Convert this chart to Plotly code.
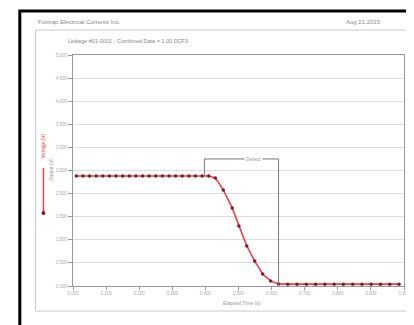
import plotly.graph_objects as go

# ---- data ----
x_vals = [0.1, 0.3, 0.5, 0.7, 0.9, 1.1, 1.3, 1.5, 1.7, 1.9, 2.1, 2.3, 2.5, 2.7, 2.9,
          3.1, 3.3, 3.5, 3.7, 3.9, 4.1,
          4.30, 4.54, 4.81, 5.01, 5.25, 5.49, 5.73, 5.97, 6.21,
          6.49, 6.77, 7.05, 7.33, 7.61, 7.89, 8.17, 8.45, 8.73, 9.01, 9.29, 9.57, 9.85]
y_vals = [4.76, 4.76, 4.76, 4.76, 4.76, 4.76, 4.76, 4.76, 4.76, 4.76, 4.76,
          4.76, 4.76, 4.76, 4.76, 4.76, 4.76, 4.76, 4.76, 4.76, 4.76,
          4.68, 4.16, 3.38, 2.60, 1.73, 1.08, 0.52, 0.22, 0.09,
          0.08, 0.08, 0.08, 0.08, 0.08, 0.08, 0.08, 0.08, 0.08, 0.08, 0.08, 0.08, 0.08]
y_ticks = [0, 1, 2, 3, 4, 5, 6, 7, 8, 9, 10]
y_tick_text = ["0.000", "0.500", "1.000", "1.500", "2.000", "2.500", "3.000", "3.500", "4.000", "4.500", "5.000"]
x_ticks = [0, 1, 2, 3, 4, 5, 6, 7, 8, 9, 10]
x_tick_text = ["0.000", "0.100", "0.200", "0.300", "0.400", "0.500", "0.600", "0.700", "0.800", "0.900", "1.000"]
box_x = [3.97, 6.21]
box_top = 5.5
box_left_bottom = 4.76

W, H = 414, 325
L, R, T, B = 65, 401, 47, 278

def px(x):
    return (x - L) / (R - L)

def py(y):
    return (B - y) / (B - T)

fig = go.Figure()
fig.add_trace(go.Scatter(
    x=x_vals, y=y_vals, mode="lines+markers",
    line=dict(color="#e4434d", width=1.6),
    marker=dict(color="#7d1d2a", size=3.5),
    showlegend=False,
))

shapes = [
    # outer black frame
    dict(type="rect", xref="paper", yref="paper", x0=px(11), x1=px(417), y0=py(3), y1=py(322),
         line=dict(color="black", width=3), layer="above"),
    # inner panel
    dict(type="rect", xref="paper", yref="paper", x0=px(27), x1=px(405), y0=py(22), y1=py(303),
         line=dict(color="#c8c8c8", width=1), layer="below"),
    # red legend line
    dict(type="line", xref="paper", yref="paper", x0=px(35), x1=px(35), y0=py(160), y1=py(206),
         line=dict(color="#e4434d", width=1.5)),
    dict(type="circle", xref="paper", yref="paper",
         x0=px(33), x1=px(37), y0=py(203), y1=py(207),
         fillcolor="#7d1d2a", line=dict(color="#7d1d2a", width=0)),
    # annotation box (bracket)
    dict(type="line", xref="x", yref="y", x0=box_x[0], x1=box_x[0], y0=box_left_bottom, y1=box_top,
         line=dict(color="#777777", width=1)),
    dict(type="line", xref="x", yref="y", x0=box_x[0], x1=box_x[1], y0=box_top, y1=box_top,
         line=dict(color="#777777", width=1)),
    dict(type="line", xref="x", yref="y", x0=box_x[1], x1=box_x[1], y0=0, y1=box_top,
         line=dict(color="#777777", width=1)),
]

annots = [
    dict(text="Foxtrap Electrical Currents Inc.", x=px(27), y=py(14), xref="paper", yref="paper",
         xanchor="left", yanchor="middle", showarrow=False, font=dict(size=6, color="#888")),
    dict(text="Aug 21,2015", x=px(380), y=py(14), xref="paper", yref="paper",
         xanchor="right", yanchor="middle", showarrow=False, font=dict(size=6, color="#888")),
    dict(text="Linkage #01-0001 · Combined Data = 1.00 DCF3", x=px(58), y=py(33), xref="paper", yref="paper",
         xanchor="left", yanchor="middle", showarrow=False, font=dict(size=5.5, color="#888")),
    dict(text="Elapsed Time (s)", x=px(237), y=py(295), xref="paper", yref="paper",
         xanchor="center", yanchor="middle", showarrow=False, font=dict(size=5, color="#999")),
    dict(text="Output (V)", x=px(43), y=py(162), xref="paper", yref="paper", textangle=-90,
         xanchor="center", yanchor="middle", showarrow=False, font=dict(size=5, color="#999")),
    dict(text="Voltage (V)", x=px(35), y=py(138), xref="paper", yref="paper", textangle=-90,
         xanchor="center", yanchor="middle", showarrow=False, font=dict(size=5, color="#e4434d")),
    dict(text="Detect", x=(box_x[0] + box_x[1]) / 2 + 0.35, y=box_top, xref="x", yref="y",
         xanchor="center", yanchor="middle", showarrow=False, bgcolor="white",
         font=dict(size=5, color="#999")),
]

fig.update_layout(
    width=W, height=H,
    margin=dict(l=L, r=W - R, t=T, b=H - B, pad=0),
    paper_bgcolor="white", plot_bgcolor="white",
    font=dict(family="Liberation Sans, Arial, sans-serif", color="#888"),
    shapes=shapes, annotations=annots,
    xaxis=dict(range=[0, 10], tickvals=x_ticks, ticktext=x_tick_text, showgrid=False,
               showline=True, linecolor="#999", mirror=True, ticks="outside", ticklen=3,
               tickcolor="#999", tickfont=dict(size=4.5, color="#aaa"), zeroline=False),
    yaxis=dict(range=[0, 10], tickvals=y_ticks, ticktext=y_tick_text, showgrid=True,
               gridcolor="#dedede", gridwidth=1, showline=True, linecolor="#999", mirror=True,
               ticks="outside", ticklen=4, tickcolor="#999",
               tickfont=dict(size=4.5, color="#aaa"), zeroline=False),
)

fig.write_html("out.html")
